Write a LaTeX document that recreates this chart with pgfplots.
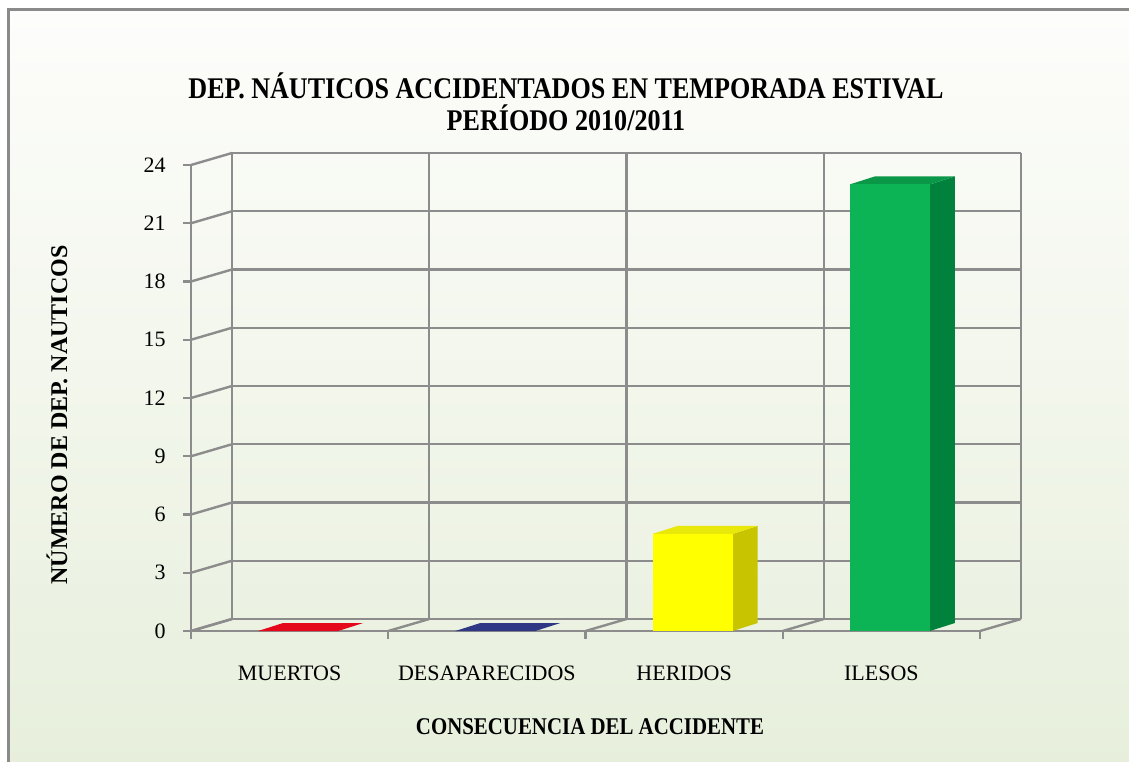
\documentclass[border=0pt]{standalone}
\usepackage{pgfplots}
\pgfplotsset{compat=1.18}
\usepackage{fontspec}
\setmainfont{Liberation Serif}
\newfontfamily\narrowfont{Liberation Serif}[FakeStretch=0.87]
\definecolor{bgtop}{RGB}{253,253,251}
\definecolor{bgbot}{RGB}{231,239,220}
\definecolor{framegray}{RGB}{138,138,138}
\definecolor{gridgray}{RGB}{140,140,140}
\definecolor{redF}{RGB}{228,8,26}
\definecolor{blueF}{RGB}{46,56,132}
\definecolor{yelF}{RGB}{255,255,0}
\definecolor{yelS}{RGB}{200,196,0}
\definecolor{yelT}{RGB}{232,232,10}
\definecolor{grnF}{RGB}{12,180,86}
\definecolor{grnS}{RGB}{0,130,60}
\definecolor{grnT}{RGB}{10,152,72}
\begin{document}
\begin{tikzpicture}
\useasboundingbox (0,0) rectangle (564.5pt,380.5pt);
\fill[white] (0,0) rectangle (564.5pt,380.5pt);
\shade[top color=bgtop, bottom color=bgbot] (4pt,-2pt) rectangle (566pt,375.5pt);
\draw[framegray, line width=1.5pt] (4pt,-2pt) -- (4pt,375.5pt) -- (566pt,375.5pt);
\begin{axis}[
  at={(95.5pt,65pt)}, anchor=south west,
  scale only axis, width=394.5pt, height=233pt,
  xmin=-0.5, xmax=3.5, ymin=0, ymax=24,
  clip=false,
  axis line style={draw=none},
  tick style={draw=none},
  xtick={0,1,2,3},
  xticklabels={MUERTOS,DESAPARECIDOS,HERIDOS,ILESOS},
  ytick={0,3,...,24},
  /pgf/number format/assume math mode=true,
  xticklabel style={font=\fontsize{11}{13}\selectfont, anchor=base, inner sep=0pt, yshift=-24.5pt},
  yticklabel style={font=\fontsize{11}{13}\selectfont, anchor=east, inner sep=0pt, xshift=-12.5pt},
  grid=none,
]
% grid walls
\pgfplotsinvokeforeach{0,3,6,9,12,15,18,21,24}{
  \draw[gridgray, line width=1.2pt] ([shift={(20.5pt,6pt)}]axis cs:-0.5,#1) -- ([shift={(20.5pt,6pt)}]axis cs:3.5,#1);
  \draw[gridgray, line width=1.2pt] (axis cs:-0.5,#1) -- ++(20.5pt,6pt);
  \draw[gridgray, line width=1.2pt] (axis cs:-0.5,#1) -- ++(-4pt,0pt);
}
\pgfplotsinvokeforeach{-0.5,0.5,1.5,2.5,3.5}{
  \draw[gridgray, line width=1.2pt] ([shift={(20.5pt,6pt)}]axis cs:#1,0) -- ([shift={(20.5pt,6pt)}]axis cs:#1,24);
  \draw[gridgray, line width=1.2pt] (axis cs:#1,0) -- ++(20.5pt,6pt);
  \draw[gridgray, line width=1.2pt] (axis cs:#1,0) -- ++(0pt,-4pt);
}
\draw[gridgray, line width=1.2pt] (axis cs:-0.5,24) -- (axis cs:-0.5,0) -- (axis cs:3.5,0);
% MUERTOS = 0
\addplot[fill=redF, draw=none] coordinates {(-0.16,0) (0.246,0) (0.373,0.412) (-0.033,0.412)} -- cycle;
% DESAPARECIDOS = 0
\addplot[fill=blueF, draw=none] coordinates {(0.84,0) (1.246,0) (1.373,0.412) (0.967,0.412)} -- cycle;
% HERIDOS = 5
\addplot[fill=yelS, draw=none] coordinates {(2.246,0) (2.373,0.412) (2.373,5.412) (2.246,5)} -- cycle;
\addplot[fill=yelT, draw=none] coordinates {(1.84,5) (2.246,5) (2.373,5.412) (1.967,5.412)} -- cycle;
\addplot[ybar, bar width=0.406, bar shift=0.043, fill=yelF, draw=none] coordinates {(2,5)};
% ILESOS = 23
\addplot[fill=grnS, draw=none] coordinates {(3.246,0) (3.373,0.412) (3.373,23.412) (3.246,23)} -- cycle;
\addplot[fill=grnT, draw=none] coordinates {(2.84,23) (3.246,23) (3.373,23.412) (2.967,23.412)} -- cycle;
\addplot[ybar, bar width=0.406, bar shift=0.043, fill=grnF, draw=none] coordinates {(3,23)};
\end{axis}
\node[align=center, font=\narrowfont\bfseries\fontsize{15}{16}\selectfont] at (283pt,329.5pt)
  {DEP. NÁUTICOS ACCIDENTADOS EN TEMPORADA ESTIVAL\\PERÍODO 2010/2011};
\node[font=\narrowfont\bfseries\fontsize{12}{14}\selectfont] at (295pt,17pt) {CONSECUENCIA DEL ACCIDENTE};
\node[rotate=90, font=\bfseries\fontsize{12}{14}\selectfont] at (28.5pt,173pt) {NÚMERO DE DEP. NAUTICOS};
\end{tikzpicture}
\end{document}
